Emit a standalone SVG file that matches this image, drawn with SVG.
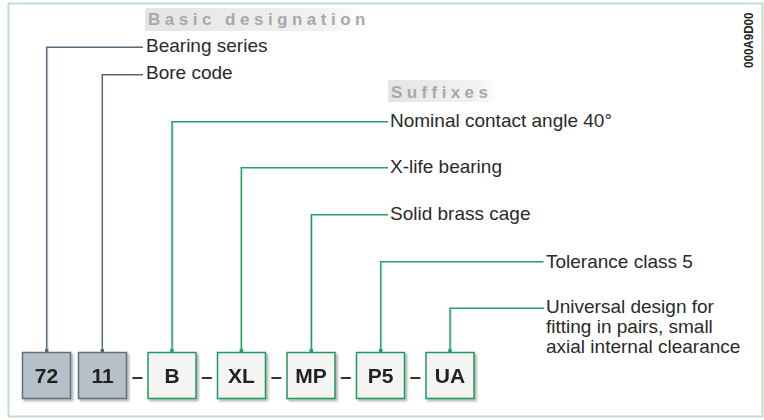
<svg xmlns="http://www.w3.org/2000/svg" width="764" height="420" viewBox="0 0 764 420">
<style>
.lbl{font-family:"Liberation Sans",Arial,sans-serif;font-size:19px;fill:#2a2a2a}
.hdr{font-family:"Liberation Sans",Arial,sans-serif;font-size:17px;font-weight:bold;fill:#a6a9ac;letter-spacing:4.5px}
.code{font-family:"Liberation Sans",Arial,sans-serif;font-size:21px;font-weight:bold;fill:#222;text-anchor:middle}
.dash{font-family:"Liberation Sans",Arial,sans-serif;font-size:20px;font-weight:bold;fill:#333;text-anchor:middle}
.gbox{fill:#b5c0c8;stroke:#5e6f7f;stroke-width:1.5}
.sbox{fill:#f4f4f4;stroke:#1f9a5a;stroke-width:1.5}
.gl{fill:none;stroke:#56697b;stroke-width:1.5}
.sl{fill:none;stroke:#22a062;stroke-width:1.5}
.sh{fill:none;stroke:#cfe7da;stroke-width:1}
</style>
<defs>
<linearGradient id="hg" x1="0" y1="0" x2="1" y2="0">
<stop offset="0" stop-color="#e4e4e4"/>
<stop offset="0.8" stop-color="#f2f2f2"/>
<stop offset="1" stop-color="#ffffff"/>
</linearGradient>
<filter id="ds" x="-20%" y="-20%" width="140%" height="140%">
<feDropShadow dx="2" dy="2" stdDeviation="1" flood-color="#000" flood-opacity="0.3"/>
</filter>
</defs>
<rect x="0" y="0" width="764" height="420" fill="#fff"/>
<rect x="8.5" y="3.5" width="754" height="413" fill="none" stroke="#c3dfc9" stroke-width="2"/>

<g id="headers">
<rect x="145" y="8" width="224" height="23" fill="url(#hg)"/>
<text class="hdr" x="148" y="25">Basic designation</text>
<rect x="388" y="80" width="110" height="22" fill="url(#hg)"/>
<text class="hdr" x="391" y="98" style="letter-spacing:4.4px">Suffixes</text>
</g>
<text x="752.5" y="68" transform="rotate(-90 752.5 68)" font-family="Liberation Sans,Arial,sans-serif" font-size="12.5" font-weight="bold" fill="#222" textLength="55.5" lengthAdjust="spacingAndGlyphs">000A9D00</text>

<g id="connectors">
<path class="sh" d="M48 352V48.5M173.5 352V123M243 352V169M312.5 352V216M382 352V263M451.5 352V310"/>
<path class="gl" d="M46.7 352V47.3H143"/>
<path class="gl" d="M102.3 352V74.7H143"/>
<path class="sl" d="M172 352V121.7H388"/>
<path class="sl" d="M241.3 352V167.7H388"/>
<path class="sl" d="M311.3 352V214.7H388"/>
<path class="sl" d="M380.7 352V261.7H543.5"/>
<path class="sl" d="M450 352V308.3H544"/>
<rect x="45" y="349" width="3.4" height="3.4" fill="#56697b"/>
<rect x="100.6" y="349" width="3.4" height="3.4" fill="#56697b"/>
<rect x="170.3" y="349" width="3.4" height="3.4" fill="#22a062"/>
<rect x="239.6" y="349" width="3.4" height="3.4" fill="#22a062"/>
<rect x="309.6" y="349" width="3.4" height="3.4" fill="#22a062"/>
<rect x="379" y="349" width="3.4" height="3.4" fill="#22a062"/>
<rect x="448.3" y="349" width="3.4" height="3.4" fill="#22a062"/>
</g>

<g id="labels">
<text class="lbl" x="146" y="51.7">Bearing series</text>
<text class="lbl" x="146" y="79">Bore code</text>
<text class="lbl" x="390" y="126.7">Nominal contact angle 40°</text>
<text class="lbl" x="390" y="173.3">X-life bearing</text>
<text class="lbl" x="390" y="220">Solid brass cage</text>
<text class="lbl" x="546" y="267.7">Tolerance class 5</text>
<text class="lbl" x="546" y="313.3">Universal design for</text>
<text class="lbl" x="546" y="333.3">fitting in pairs, small</text>
<text class="lbl" x="546" y="353.3">axial internal clearance</text>
</g>

<g id="node-72" filter="url(#ds)"><rect class="gbox" x="22.5" y="352.5" width="48" height="46"/><text class="code" x="46.5" y="382.5">72</text></g>
<g id="node-11" filter="url(#ds)"><rect class="gbox" x="78.5" y="352.5" width="48" height="46"/><text class="code" x="102.5" y="382.5">11</text></g>
<g id="node-B" filter="url(#ds)"><rect class="sbox" x="148" y="352.5" width="48" height="46"/><text class="code" x="172" y="382.5">B</text></g>
<g id="node-XL" filter="url(#ds)"><rect class="sbox" x="217.5" y="352.5" width="48" height="46"/><text class="code" x="241.5" y="382.5">XL</text></g>
<g id="node-MP" filter="url(#ds)"><rect class="sbox" x="287" y="352.5" width="48" height="46"/><text class="code" x="311" y="382.5">MP</text></g>
<g id="node-P5" filter="url(#ds)"><rect class="sbox" x="356.5" y="352.5" width="48" height="46"/><text class="code" x="380.5" y="382.5">P5</text></g>
<g id="node-UA" filter="url(#ds)"><rect class="sbox" x="426" y="352.5" width="48" height="46"/><text class="code" x="450" y="382.5">UA</text></g>

<g id="dashes">
<text class="dash" x="137.2" y="383">–</text>
<text class="dash" x="206.8" y="383">–</text>
<text class="dash" x="276.2" y="383">–</text>
<text class="dash" x="345.7" y="383">–</text>
<text class="dash" x="415.3" y="383">–</text>
</g>
</svg>
